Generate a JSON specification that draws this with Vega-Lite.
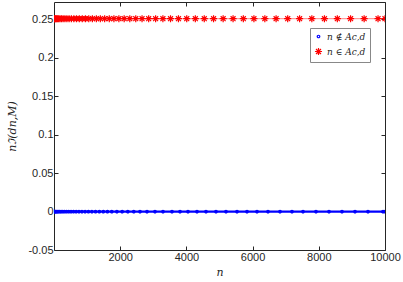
{
"$schema": "https://vega.github.io/schema/vega-lite/v6.json",
"width": 331, "height": 248,
"autosize": {"type": "none"},
"padding": {"left": 54, "top": 2, "right": 18, "bottom": 32},
"background": "white",
"config": {
 "view": {"stroke": "#262626", "strokeWidth": 1},
 "axis": {"grid": false, "domain": false, "tickSize": -4, "tickColor": "#262626", "labelFont": "Liberation Sans", "labelFontSize": 11, "labelColor": "#262626", "titleFont": "DejaVu Serif", "titleFontStyle": "italic", "titleFontWeight": "normal", "titleFontSize": 11, "titleColor": "#262626", "labelPadding": 5, "labelFlush": false, "labelOverlap": false}
},
"datasets": {
 "pts": [
  {"n":5,"v":0,"g":"n ∉ Ac,d"},{"n":20,"v":0,"g":"n ∉ Ac,d"},{"n":40,"v":0,"g":"n ∉ Ac,d"},{"n":65,"v":0,"g":"n ∉ Ac,d"},{"n":95,"v":0,"g":"n ∉ Ac,d"},{"n":130,"v":0,"g":"n ∉ Ac,d"},{"n":170,"v":0,"g":"n ∉ Ac,d"},{"n":215,"v":0,"g":"n ∉ Ac,d"},{"n":265,"v":0,"g":"n ∉ Ac,d"},{"n":320,"v":0,"g":"n ∉ Ac,d"},{"n":380,"v":0,"g":"n ∉ Ac,d"},{"n":445,"v":0,"g":"n ∉ Ac,d"},{"n":515,"v":0,"g":"n ∉ Ac,d"},{"n":590,"v":0,"g":"n ∉ Ac,d"},{"n":670,"v":0,"g":"n ∉ Ac,d"},{"n":755,"v":0,"g":"n ∉ Ac,d"},{"n":845,"v":0,"g":"n ∉ Ac,d"},{"n":940,"v":0,"g":"n ∉ Ac,d"},{"n":1040,"v":0,"g":"n ∉ Ac,d"},{"n":1145,"v":0,"g":"n ∉ Ac,d"},{"n":1255,"v":0,"g":"n ∉ Ac,d"},{"n":1370,"v":0,"g":"n ∉ Ac,d"},{"n":1490,"v":0,"g":"n ∉ Ac,d"},{"n":1615,"v":0,"g":"n ∉ Ac,d"},{"n":1745,"v":0,"g":"n ∉ Ac,d"},{"n":1900,"v":0,"g":"n ∉ Ac,d"},{"n":2060,"v":0,"g":"n ∉ Ac,d"},{"n":2230,"v":0,"g":"n ∉ Ac,d"},{"n":2410,"v":0,"g":"n ∉ Ac,d"},{"n":2598,"v":0,"g":"n ∉ Ac,d"},{"n":2810,"v":0,"g":"n ∉ Ac,d"},{"n":3051,"v":0,"g":"n ∉ Ac,d"},{"n":3293,"v":0,"g":"n ∉ Ac,d"},{"n":3565,"v":0,"g":"n ∉ Ac,d"},{"n":3807,"v":0,"g":"n ∉ Ac,d"},{"n":4048,"v":0,"g":"n ∉ Ac,d"},{"n":4320,"v":0,"g":"n ∉ Ac,d"},{"n":4592,"v":0,"g":"n ∉ Ac,d"},{"n":4894,"v":0,"g":"n ∉ Ac,d"},{"n":5196,"v":0,"g":"n ∉ Ac,d"},{"n":5529,"v":0,"g":"n ∉ Ac,d"},{"n":5831,"v":0,"g":"n ∉ Ac,d"},{"n":6133,"v":0,"g":"n ∉ Ac,d"},{"n":6465,"v":0,"g":"n ∉ Ac,d"},{"n":6828,"v":0,"g":"n ∉ Ac,d"},{"n":7190,"v":0,"g":"n ∉ Ac,d"},{"n":7523,"v":0,"g":"n ∉ Ac,d"},{"n":7915,"v":0,"g":"n ∉ Ac,d"},{"n":8308,"v":0,"g":"n ∉ Ac,d"},{"n":8701,"v":0,"g":"n ∉ Ac,d"},{"n":9094,"v":0,"g":"n ∉ Ac,d"},{"n":9486,"v":0,"g":"n ∉ Ac,d"},{"n":9940,"v":0,"g":"n ∉ Ac,d"},{"n":10000,"v":0,"g":"n ∉ Ac,d"},
  {"n":5,"v":0.251,"g":"n ∈ Ac,d"},{"n":15,"v":0.251,"g":"n ∈ Ac,d"},{"n":30,"v":0.251,"g":"n ∈ Ac,d"},{"n":50,"v":0.251,"g":"n ∈ Ac,d"},{"n":75,"v":0.251,"g":"n ∈ Ac,d"},{"n":105,"v":0.251,"g":"n ∈ Ac,d"},{"n":140,"v":0.251,"g":"n ∈ Ac,d"},{"n":180,"v":0.251,"g":"n ∈ Ac,d"},{"n":225,"v":0.251,"g":"n ∈ Ac,d"},{"n":275,"v":0.251,"g":"n ∈ Ac,d"},{"n":330,"v":0.251,"g":"n ∈ Ac,d"},{"n":390,"v":0.251,"g":"n ∈ Ac,d"},{"n":455,"v":0.251,"g":"n ∈ Ac,d"},{"n":525,"v":0.251,"g":"n ∈ Ac,d"},{"n":600,"v":0.251,"g":"n ∈ Ac,d"},{"n":680,"v":0.251,"g":"n ∈ Ac,d"},{"n":765,"v":0.251,"g":"n ∈ Ac,d"},{"n":855,"v":0.251,"g":"n ∈ Ac,d"},{"n":950,"v":0.251,"g":"n ∈ Ac,d"},{"n":1050,"v":0.251,"g":"n ∈ Ac,d"},{"n":1160,"v":0.251,"g":"n ∈ Ac,d"},{"n":1280,"v":0.251,"g":"n ∈ Ac,d"},{"n":1400,"v":0.251,"g":"n ∈ Ac,d"},{"n":1530,"v":0.251,"g":"n ∈ Ac,d"},{"n":1670,"v":0.251,"g":"n ∈ Ac,d"},{"n":1810,"v":0.251,"g":"n ∈ Ac,d"},{"n":1960,"v":0.251,"g":"n ∈ Ac,d"},{"n":2120,"v":0.251,"g":"n ∈ Ac,d"},{"n":2290,"v":0.251,"g":"n ∈ Ac,d"},{"n":2470,"v":0.251,"g":"n ∈ Ac,d"},{"n":2660,"v":0.251,"g":"n ∈ Ac,d"},{"n":2860,"v":0.251,"g":"n ∈ Ac,d"},{"n":3070,"v":0.251,"g":"n ∈ Ac,d"},{"n":3290,"v":0.251,"g":"n ∈ Ac,d"},{"n":3520,"v":0.251,"g":"n ∈ Ac,d"},{"n":3760,"v":0.251,"g":"n ∈ Ac,d"},{"n":4010,"v":0.251,"g":"n ∈ Ac,d"},{"n":4270,"v":0.251,"g":"n ∈ Ac,d"},{"n":4540,"v":0.251,"g":"n ∈ Ac,d"},{"n":4820,"v":0.251,"g":"n ∈ Ac,d"},{"n":5110,"v":0.251,"g":"n ∈ Ac,d"},{"n":5410,"v":0.251,"g":"n ∈ Ac,d"},{"n":5720,"v":0.251,"g":"n ∈ Ac,d"},{"n":6040,"v":0.251,"g":"n ∈ Ac,d"},{"n":6370,"v":0.251,"g":"n ∈ Ac,d"},{"n":6710,"v":0.251,"g":"n ∈ Ac,d"},{"n":7060,"v":0.251,"g":"n ∈ Ac,d"},{"n":7420,"v":0.251,"g":"n ∈ Ac,d"},{"n":7790,"v":0.251,"g":"n ∈ Ac,d"},{"n":8170,"v":0.251,"g":"n ∈ Ac,d"},{"n":8560,"v":0.251,"g":"n ∈ Ac,d"},{"n":8960,"v":0.251,"g":"n ∈ Ac,d"},{"n":9370,"v":0.251,"g":"n ∈ Ac,d"},{"n":9790,"v":0.251,"g":"n ∈ Ac,d"},{"n":10000,"v":0.251,"g":"n ∈ Ac,d"}
 ]
},
"data": {"name": "pts"},
"layer": [
 {
  "transform": [{"filter": "datum.g == 'n ∉ Ac,d'"}],
  "mark": {"type": "line", "color": "#0000ff", "strokeWidth": 2.2, "clip": true},
  "encoding": {
   "x": {"field": "n", "type": "quantitative", "scale": {"domain": [0, 10000], "nice": false, "zero": false}, "axis": {"title": "n", "values": [2000, 4000, 6000, 8000, 10000], "format": "d", "titlePadding": 4}},
   "y": {"field": "v", "type": "quantitative", "scale": {"domain": [-0.05, 0.2727], "nice": false, "zero": false}, "axis": {"title": "nℑ(dn,M)", "values": [-0.05, 0, 0.05, 0.1, 0.15, 0.2, 0.25], "labelExpr": "toString(datum.value)", "titlePadding": 10}}
  }
 },
 {
  "transform": [{"filter": "datum.g == 'n ∈ Ac,d'"}],
  "mark": {"type": "line", "color": "#ff3030", "strokeWidth": 1, "opacity": 0.6, "clip": true},
  "encoding": {
   "x": {"field": "n", "type": "quantitative", "axis": {"orient": "top", "labels": false, "title": null, "values": [2000, 4000, 6000, 8000, 10000]}},
   "y": {"field": "v", "type": "quantitative", "axis": {"orient": "right", "labels": false, "title": null, "values": [-0.05, 0, 0.05, 0.1, 0.15, 0.2, 0.25]}}
  }
 },
 {
  "mark": {"type": "point", "strokeWidth": 1.2, "filled": false, "size": 50, "opacity": 1, "clip": true},
  "encoding": {
   "x": {"field": "n", "type": "quantitative", "axis": null},
   "y": {"field": "v", "type": "quantitative", "axis": null},
   "color": {"field": "g", "type": "nominal", "scale": {"domain": ["n ∉ Ac,d", "n ∈ Ac,d"], "range": ["#0000ff", "#ff0000"]}, "legend": {"title": null, "orient": "none", "legendX": 256, "legendY": 26, "fillColor": "white", "strokeColor": "#888888", "padding": 4, "labelFont": "DejaVu Serif", "labelFontStyle": "italic", "labelFontSize": 9, "labelColor": "#262626", "rowPadding": 3, "symbolSize": 50, "symbolStrokeWidth": 1.2}},
   "shape": {"field": "g", "type": "nominal", "scale": {"domain": ["n ∉ Ac,d", "n ∈ Ac,d"], "range": ["M -0.36 0 A 0.36 0.36 0 1 0 0.36 0 A 0.36 0.36 0 1 0 -0.36 0 Z", "M -1 0 L 1 0 M 0 -1 L 0 1 M -0.7 -0.7 L 0.7 0.7 M -0.7 0.7 L 0.7 -0.7"]}, "legend": {"title": null, "orient": "none", "legendX": 256, "legendY": 26}}
  }
 }
],
"resolve": {"axis": {"x": "independent", "y": "independent"}}
}
